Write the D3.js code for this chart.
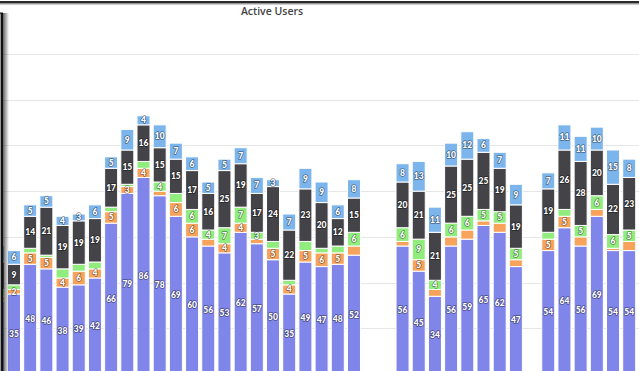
<!DOCTYPE html>
<html><head><meta charset="utf-8">
<script src="https://cdn.jsdelivr.net/npm/d3@7"></script>
<style>html,body{margin:0;padding:0;background:#fff;overflow:hidden}</style>
</head><body>
<script>
const title = "Active Users";
const days = ["d00","d01","d02","d03","d04","d05","d06","d07","d08","d09",
              "d10","d11","d12","d13","d14","d15","d16","d17","d18","d19",
              "d20","d21","d22","d23","d24","d25","d26","d27","d28","d29",
              "d30","d31","d32","d33","d34","d35","d36","d37","d38","d39"];
// series (bottom to top of stack)
const seriesPurple = [32,35,48,46,38,39,42,66,79,86,78,69,60,56,53,62,57,50,35,49,47,48,52,null,null,56,45,34,56,59,65,62,47,null,54,64,56,69,54,54];
const seriesOrange = [2,2,5,5,4,6,4,5,3,4,2,6,6,3,4,4,2,5,4,5,6,5,4,null,null,2,5,3,4,4,2,4,3,null,5,5,4,3,1,4];
const seriesGreen  = [3,2,2,1,4,3,3,2,1,3,4,4,6,4,7,7,3,3,2,4,2,3,6,null,null,6,9,4,6,6,5,5,5,null,3,3,5,6,6,5];
const seriesDark   = [12,9,14,21,19,19,19,17,15,16,15,15,17,16,25,19,17,24,22,23,20,12,15,null,null,20,21,21,25,25,25,19,19,null,19,26,28,20,22,23];
const seriesBlue   = [7,6,5,5,4,3,6,5,9,4,10,7,6,5,5,7,7,3,7,9,9,6,8,null,null,8,13,11,10,12,6,7,9,null,7,11,11,10,15,8];
const yTicks = [0,20,40,60,80,100,120,140];

const keys = ["purple","orange","green","dark","blue"];
const colors = {purple:"#8085e9", orange:"#f7a35c", green:"#90ed7d", dark:"#434348", blue:"#7cb5ec"};
const src = {purple:seriesPurple, orange:seriesOrange, green:seriesGreen, dark:seriesDark, blue:seriesBlue};
const table = days.map((d,i)=>{
  const r = {day:d, missing: seriesPurple[i]==null};
  keys.forEach(k=>r[k] = src[k][i]==null ? 0 : src[k][i]);
  return r;
});

const W = 639, H = 371;
const svg = d3.select("body").append("svg").attr("width",W).attr("height",H)
  .style("font-family","Lato, 'Open Sans', sans-serif");
svg.append("rect").attr("width",W).attr("height",H).attr("fill","#fff");

const x = d3.scaleBand().domain(days).range([-10.3, 637.3]).paddingInner(0.197).paddingOuter(0.0985);
const y = d3.scaleLinear().domain([0,140]).range([374,54]);

// gridlines
svg.append("g").selectAll("line").data(yTicks).join("line")
  .attr("x1",0).attr("x2",W).attr("y1",d=>Math.round(y(d))+0.5).attr("y2",d=>Math.round(y(d))+0.5)
  .attr("stroke","#e6e6e6").attr("stroke-width",1);

const stacked = d3.stack().keys(keys)(table);

const gBars = svg.append("g");
stacked.forEach(layer=>{
  gBars.append("g").attr("fill",colors[layer.key])
    .selectAll("rect").data(layer.filter(d=>!d.data.missing)).join("rect")
    .attr("x",d=>x(d.data.day)).attr("width",x.bandwidth())
    .attr("y",d=>y(d[1])).attr("height",d=>y(d[0])-y(d[1]))
    .attr("stroke","#fff").attr("stroke-width",1);
});

// data labels with overlap hiding (per bar, larger segments first)
const labels = [];
table.forEach((row,i)=>{
  if(row.missing) return;
  const segs = stacked.map((layer,li)=>({key:layer.key, li, v:row[layer.key], cy:(y(layer[i][0])+y(layer[i][1]))/2}));
  segs.sort((a,b)=> (b.v-a.v) || (a.li-b.li));
  const acc = [];
  segs.forEach(s=>{
    if(acc.every(a=>Math.abs(a.cy-s.cy)>=12)) acc.push(s);
  });
  acc.forEach(s=>labels.push({day:row.day, v:s.v, cy:s.cy}));
});
svg.append("g").selectAll("text").data(labels).join("text")
  .attr("x",d=>x(d.day)+x.bandwidth()/2).attr("y",d=>d.cy)
  .attr("text-anchor","middle").attr("dominant-baseline","central")
  .attr("font-size","8.5px").attr("font-weight","900")
  .attr("fill","#fff").attr("stroke","rgba(0,0,0,0.45)").attr("stroke-width",1.6)
  .attr("stroke-linejoin","round").style("paint-order","stroke")
  .text(d=>d.v);

// title
svg.append("text").attr("x",272).attr("y",15).attr("text-anchor","middle")
  .attr("font-size","10.5px").attr("font-weight","600").attr("fill","#444")
  .style("font-family","'Open Sans', Lato, sans-serif").text(title);

// window frame edges
const defs = svg.append("defs");
const grad = defs.append("linearGradient").attr("id","sh").attr("x1",0).attr("x2",1);
grad.append("stop").attr("offset",0).attr("stop-color","#000").attr("stop-opacity",0.6);
grad.append("stop").attr("offset",1).attr("stop-color","#000").attr("stop-opacity",0);
svg.append("rect").attr("x",0).attr("y",1).attr("width",W).attr("height",2.5).attr("fill","#2a2a2a");
svg.append("rect").attr("x",0).attr("y",3.5).attr("width",W).attr("height",1).attr("fill","#999");
svg.append("rect").attr("x",3).attr("y",13).attr("width",6).attr("height",H).attr("fill","url(#sh)");
svg.append("rect").attr("x",0).attr("y",13).attr("width",1).attr("height",H).attr("fill","#999");
svg.append("rect").attr("x",1).attr("y",13).attr("width",2).attr("height",H).attr("fill","#111");
svg.append("rect").attr("x",0).attr("y",12.5).attr("width",3).attr("height",1.2).attr("fill","#111");
</script>
</body></html>
